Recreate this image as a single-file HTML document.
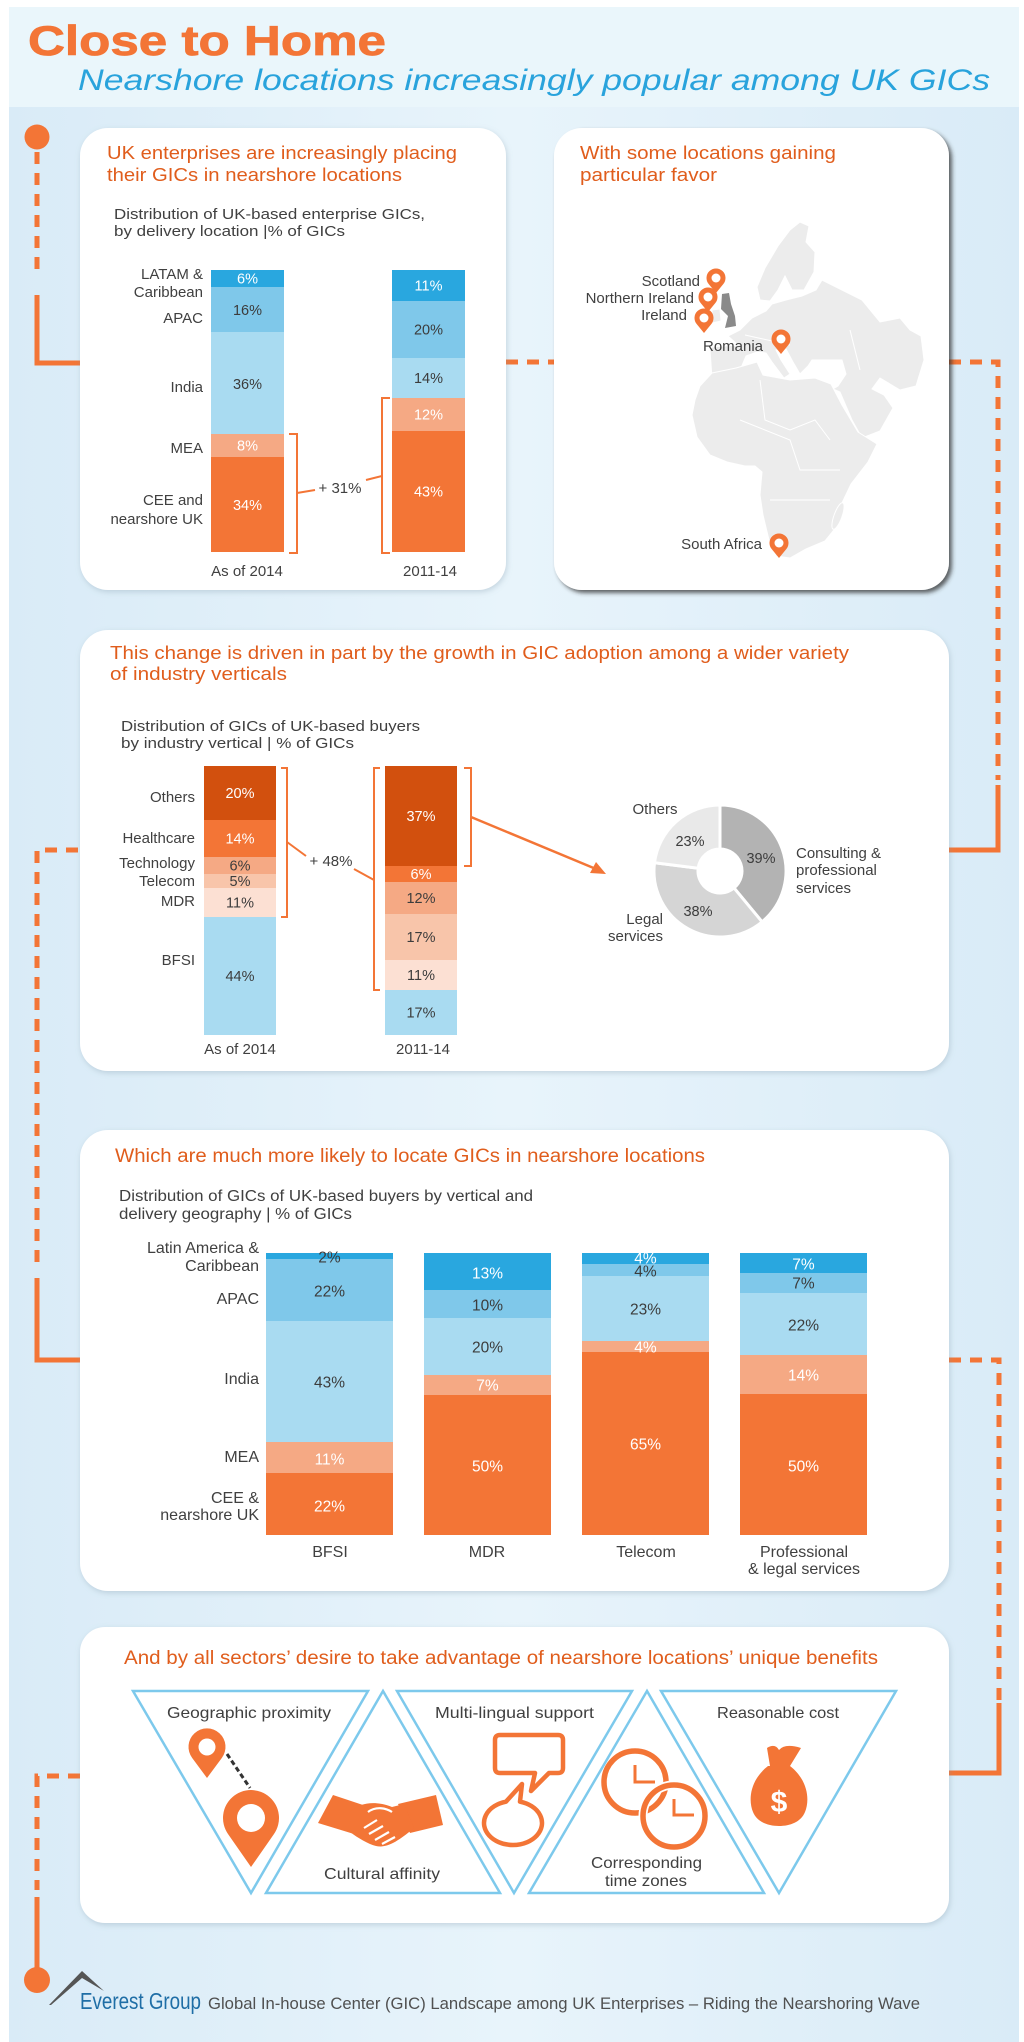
<!DOCTYPE html>
<html><head><meta charset="utf-8"><style>
html,body{margin:0;padding:0;background:#fff}
svg{display:block}
text{font-family:"Liberation Sans",Arial,sans-serif}
.lb{font-size:15px;fill:#404040}
.v{font-size:14.5px;text-anchor:middle}
.w{fill:#fff}.d{fill:#3c3c3c}
.h{font-size:18.5px;fill:#e05d1c}
.s{font-size:14.5px;fill:#404040}
.cn{fill:none;stroke:#f37536;stroke-width:5}
.ds{stroke-dasharray:12 9}
.br{fill:none;stroke:#f37536;stroke-width:2}
.tri{fill:none;stroke:#7dc9ec;stroke-width:2.5}
.or{fill:#f37536}
</style></head><body>
<svg width="1024" height="2042" viewBox="0 0 1024 2042" xmlns="http://www.w3.org/2000/svg">
<defs>
<linearGradient id="bg" x1="0" y1="0" x2="1" y2="0">
<stop offset="0" stop-color="#d9ebf7"/><stop offset="0.5" stop-color="#e8f4fb"/><stop offset="1" stop-color="#d9ebf7"/>
</linearGradient>
<filter id="sh" x="-5%" y="-5%" width="110%" height="115%"><feDropShadow dx="1" dy="2" stdDeviation="3" flood-color="#7f98a8" flood-opacity="0.35"/></filter>
<filter id="sh2" x="-5%" y="-5%" width="110%" height="110%"><feDropShadow dx="3" dy="3" stdDeviation="2" flood-color="#333" flood-opacity="0.75"/></filter>
</defs>

<!-- background -->
<rect x="0" y="0" width="1024" height="2042" fill="#fff"/>
<rect x="9" y="107" width="1010" height="1935" fill="url(#bg)"/>
<rect x="9" y="7" width="1010" height="100" fill="#eaf6fb"/>

<!-- header -->
<text x="28" y="55" font-size="42" font-weight="bold" fill="#f37536" stroke="#f37536" stroke-width="0.8" textLength="358" lengthAdjust="spacingAndGlyphs">Close to Home</text>
<text x="78" y="90" font-size="30" font-style="italic" fill="#29a3dc" textLength="912" lengthAdjust="spacingAndGlyphs">Nearshore locations increasingly popular among UK GICs</text>

<!-- connectors -->
<circle cx="37" cy="137" r="12.5" class="or"/>
<line x1="37" y1="152" x2="37" y2="278" class="cn ds"/>
<polyline points="37,295 37,363 80,363" class="cn"/>
<line x1="506" y1="362" x2="554" y2="362" class="cn ds"/>
<polyline points="949,362 998,362 998,780" class="cn ds"/>
<polyline points="998,785 998,850 949,850" class="cn"/>
<polyline points="78,850 37,850 37,1270" class="cn ds"/>
<polyline points="37,1278 37,1360 80,1360" class="cn"/>
<polyline points="949,1360 999,1360 999,1700" class="cn ds"/>
<polyline points="999,1703 999,1773 949,1773" class="cn"/>
<polyline points="80,1776 37,1776 37,1890" class="cn ds"/>
<line x1="37" y1="1897" x2="37" y2="1980" class="cn"/>
<circle cx="37" cy="1980" r="13" class="or"/>

<!-- PANEL 1 -->
<rect x="80" y="128" width="426" height="462" rx="28" fill="#fff" filter="url(#sh)"/>
<text x="107" y="159" class="h" textLength="350" lengthAdjust="spacingAndGlyphs">UK enterprises are increasingly placing</text>
<text x="107" y="181" class="h" textLength="295" lengthAdjust="spacingAndGlyphs">their GICs in nearshore locations</text>
<text x="114" y="219" class="s" textLength="311" lengthAdjust="spacingAndGlyphs">Distribution of UK-based enterprise GICs,</text>
<text x="114" y="236" class="s" textLength="231" lengthAdjust="spacingAndGlyphs">by delivery location |% of GICs</text>

<rect x="211" y="270" width="73" height="17" fill="#29a7df"/>
<rect x="211" y="287" width="73" height="45" fill="#7fc8ea"/>
<rect x="211" y="332" width="73" height="102" fill="#a9dbf1"/>
<rect x="211" y="434" width="73" height="23" fill="#f5a984"/>
<rect x="211" y="457" width="73" height="95" fill="#f37536"/>
<text x="247.5" y="283.5" class="v w">6%</text>
<text x="247.5" y="315" class="v d">16%</text>
<text x="247.5" y="389" class="v d">36%</text>
<text x="247.5" y="450.5" class="v w">8%</text>
<text x="247.5" y="510" class="v w">34%</text>

<rect x="392" y="270" width="73" height="31" fill="#29a7df"/>
<rect x="392" y="301" width="73" height="57" fill="#7fc8ea"/>
<rect x="392" y="358" width="73" height="40" fill="#a9dbf1"/>
<rect x="392" y="398" width="73" height="33" fill="#f5a984"/>
<rect x="392" y="431" width="73" height="121" fill="#f37536"/>
<text x="428.5" y="290.5" class="v w">11%</text>
<text x="428.5" y="334.5" class="v d">20%</text>
<text x="428.5" y="383" class="v d">14%</text>
<text x="428.5" y="419.5" class="v w">12%</text>
<text x="428.5" y="496.5" class="v w">43%</text>

<g class="lb" text-anchor="end">
<text x="203" y="279">LATAM &amp;</text>
<text x="203" y="297">Caribbean</text>
<text x="203" y="323">APAC</text>
<text x="203" y="392">India</text>
<text x="203" y="453">MEA</text>
<text x="203" y="505">CEE and</text>
<text x="203" y="524">nearshore UK</text>
</g>
<path d="M289,434 H297 V553 H289" class="br"/>
<path d="M390,398 H382 V553 H390" class="br"/>
<line x1="297" y1="493" x2="315" y2="490" class="br"/>
<line x1="366" y1="480" x2="382" y2="476" class="br"/>
<text x="340" y="493" class="lb" text-anchor="middle">+ 31%</text>
<text x="247" y="576" class="lb" text-anchor="middle">As of 2014</text>
<text x="430" y="576" class="lb" text-anchor="middle">2011-14</text>

<!-- PANEL 2 -->
<rect x="554" y="128" width="395" height="462" rx="28" fill="#fff" filter="url(#sh2)"/>
<text x="580" y="159" class="h" textLength="256" lengthAdjust="spacingAndGlyphs">With some locations gaining</text>
<text x="580" y="181" class="h" textLength="137" lengthAdjust="spacingAndGlyphs">particular favor</text>
<g fill="#ececec" stroke="#fff" stroke-width="1">
<path d="M710,350 L712,378 L728,379 L741,368 L746,356 L757,352 L766,353 L772,362 L784,378 L790,374 L781,360 L776,350 L786,349 L793,362 L800,374 L808,366 L812,360 L842,360 L846,374 L838,386 L833,389 L840,392 L852,420 L862,438 L880,431 L893,408 L884,395 L872,389 L880,378 L900,390 L916,386 L924,360 L921,336 L910,330 L900,318 L880,322 L862,300 L842,290 L822,280 L816,290 L802,296 L786,300 L772,304 L766,311 L752,318 L740,330 L728,336 L738,345 L724,346 L712,347 Z"/>
<path d="M760,300 L757,287 L765,268 L778,246 L790,230 L800,222 L809,226 L806,242 L815,252 L814,272 L804,290 L792,290 L785,276 L778,290 L770,301 Z"/>
<path d="M700,386 L712,373 L736,368 L757,362 L763,375 L790,380 L815,378 L831,384 L842,405 L858,432 L877,444 L868,462 L851,484 L841,505 L838,525 L825,541 L806,549 L790,558 L776,556 L769,540 L763,515 L760,495 L762,472 L755,466 L745,466 L727,462 L710,455 L697,437 L692,415 L695,400 Z"/>
<ellipse cx="838" cy="516" rx="4" ry="14" transform="rotate(20 838 516)"/>
<polygon points="712,310 720,309 721,321 712,323"/>
</g>
<g stroke="#fff" stroke-width="1" fill="none">
<path d="M760,380 L765,420 L790,430 L815,420 L830,440"/><path d="M740,420 L790,440 L800,470 L840,470"/><path d="M770,500 L830,500"/><path d="M850,330 L860,370"/><path d="M745,335 L790,345"/>
</g>
<polygon points="722,294 729,293 731,304 735,316 736,326 725,328 728,316 721,309" fill="#8a8a8a"/>
<g class="or">
<path d="M716,293 L723.35,284 A9.5,9.5 0 1 0 708.65,284 Z"/>
<path d="M708,312 L715.35,303 A9.5,9.5 0 1 0 700.65,303 Z"/>
<path d="M704,333 L711.35,324 A9.5,9.5 0 1 0 696.65,324 Z"/>
<path d="M781,354 L788.35,345 A9.5,9.5 0 1 0 773.65,345 Z"/>
<path d="M779,558 L786.35,549 A9.5,9.5 0 1 0 771.65,549 Z"/>
</g>
<g fill="#fff">
<circle cx="716" cy="278" r="4.5"/><circle cx="708" cy="297" r="4.5"/><circle cx="704" cy="318" r="4.5"/><circle cx="781" cy="339" r="4.5"/><circle cx="779" cy="543" r="4.5"/>
</g>
<g class="lb">
<text x="700" y="286" text-anchor="end">Scotland</text>
<text x="694" y="303" text-anchor="end">Northern Ireland</text>
<text x="687" y="320" text-anchor="end">Ireland</text>
<text x="703" y="351">Romania</text>
<text x="762" y="549" text-anchor="end">South Africa</text>
</g>

<!-- PANEL 3 -->
<rect x="80" y="630" width="869" height="441" rx="28" fill="#fff" filter="url(#sh)"/>
<text x="110" y="659" class="h" textLength="739" lengthAdjust="spacingAndGlyphs">This change is driven in part by the growth in GIC adoption among a wider variety</text>
<text x="110" y="680" class="h" textLength="177" lengthAdjust="spacingAndGlyphs">of industry verticals</text>
<text x="121" y="731" class="s" textLength="299" lengthAdjust="spacingAndGlyphs">Distribution of GICs of UK-based buyers</text>
<text x="121" y="748" class="s" textLength="233" lengthAdjust="spacingAndGlyphs">by industry vertical | % of GICs</text>

<rect x="204" y="766" width="72" height="54" fill="#d2500e"/>
<rect x="204" y="820" width="72" height="37" fill="#f37536"/>
<rect x="204" y="857" width="72" height="17" fill="#f5a984"/>
<rect x="204" y="874" width="72" height="14" fill="#f8c5aa"/>
<rect x="204" y="888" width="72" height="29" fill="#fce0d3"/>
<rect x="204" y="917" width="72" height="118" fill="#a9dbf1"/>
<text x="240" y="798" class="v w">20%</text>
<text x="240" y="843.5" class="v w">14%</text>
<text x="240" y="870.5" class="v d">6%</text>
<text x="240" y="886" class="v d">5%</text>
<text x="240" y="907.5" class="v d">11%</text>
<text x="240" y="981" class="v d">44%</text>

<rect x="385" y="766" width="72" height="100" fill="#d2500e"/>
<rect x="385" y="866" width="72" height="16" fill="#f37536"/>
<rect x="385" y="882" width="72" height="32" fill="#f5a984"/>
<rect x="385" y="914" width="72" height="46" fill="#f8c5aa"/>
<rect x="385" y="960" width="72" height="30" fill="#fce0d3"/>
<rect x="385" y="990" width="72" height="45" fill="#a9dbf1"/>
<text x="421" y="821" class="v w">37%</text>
<text x="421" y="879" class="v w">6%</text>
<text x="421" y="903" class="v d">12%</text>
<text x="421" y="942" class="v d">17%</text>
<text x="421" y="980" class="v d">11%</text>
<text x="421" y="1017.5" class="v d">17%</text>

<g class="lb" text-anchor="end">
<text x="195" y="802">Others</text>
<text x="195" y="843">Healthcare</text>
<text x="195" y="868">Technology</text>
<text x="195" y="886">Telecom</text>
<text x="195" y="906">MDR</text>
<text x="195" y="965">BFSI</text>
</g>
<path d="M281,768 H287 V917 H281" class="br"/>
<path d="M380,768 H374 V990 H380" class="br"/>
<path d="M464,768 H471 V866 H464" class="br"/>
<line x1="287" y1="842" x2="306" y2="856" class="br"/>
<line x1="354" y1="869" x2="374" y2="880" class="br"/>
<text x="331" y="866" class="lb" text-anchor="middle">+ 48%</text>
<line x1="471" y1="817" x2="596" y2="869" stroke="#f37536" stroke-width="2.5"/>
<polygon points="606,874 590,873 596,862" class="or"/>

<path d="M720,805 A66,66 0 0 1 762.07,921.85 L734.02,887.95 A22,22 0 0 0 720,849 Z" fill="#b3b3b3" stroke="#fff" stroke-width="3"/>
<path d="M762.07,921.85 A66,66 0 0 1 654.52,862.73 L698.17,868.24 A22,22 0 0 0 734.02,887.95 Z" fill="#d5d5d5" stroke="#fff" stroke-width="3"/>
<path d="M654.52,862.73 A66,66 0 0 1 720,805 L720,849 A22,22 0 0 0 698.17,868.24 Z" fill="#e9e9e9" stroke="#fff" stroke-width="3"/>
<text x="761" y="863" class="v d">39%</text>
<text x="698" y="916" class="v d">38%</text>
<text x="690" y="846" class="v d">23%</text>
<g class="lb">
<text x="655" y="814" text-anchor="middle">Others</text>
<text x="796" y="858">Consulting &amp;</text>
<text x="796" y="875">professional</text>
<text x="796" y="893">services</text>
<text x="663" y="924" text-anchor="end">Legal</text>
<text x="663" y="941" text-anchor="end">services</text>
<text x="240" y="1054" text-anchor="middle">As of 2014</text>
<text x="423" y="1054" text-anchor="middle">2011-14</text>
</g>

<!-- PANEL 4 -->
<rect x="80" y="1130" width="869" height="461" rx="28" fill="#fff" filter="url(#sh)"/>
<text x="115" y="1162" font-size="19" fill="#e05d1c" textLength="590" lengthAdjust="spacingAndGlyphs">Which are much more likely to locate GICs in nearshore locations</text>
<text x="119" y="1201" font-size="15.5" fill="#404040" textLength="414" lengthAdjust="spacingAndGlyphs">Distribution of GICs of UK-based buyers by vertical and</text>
<text x="119" y="1219" font-size="15.5" fill="#404040" textLength="233" lengthAdjust="spacingAndGlyphs">delivery geography | % of GICs</text>

<g>
<rect x="266" y="1253" width="127" height="6" fill="#29a7df"/>
<rect x="266" y="1259" width="127" height="62" fill="#7fc8ea"/>
<rect x="266" y="1321" width="127" height="121" fill="#a9dbf1"/>
<rect x="266" y="1442" width="127" height="31" fill="#f5a984"/>
<rect x="266" y="1473" width="127" height="62" fill="#f37536"/>

<rect x="424" y="1253" width="127" height="37" fill="#29a7df"/>
<rect x="424" y="1290" width="127" height="28" fill="#7fc8ea"/>
<rect x="424" y="1318" width="127" height="57" fill="#a9dbf1"/>
<rect x="424" y="1375" width="127" height="20" fill="#f5a984"/>
<rect x="424" y="1395" width="127" height="140" fill="#f37536"/>

<rect x="582" y="1253" width="127" height="11" fill="#29a7df"/>
<rect x="582" y="1264" width="127" height="12" fill="#7fc8ea"/>
<rect x="582" y="1276" width="127" height="65" fill="#a9dbf1"/>
<rect x="582" y="1341" width="127" height="11" fill="#f5a984"/>
<rect x="582" y="1352" width="127" height="183" fill="#f37536"/>

<rect x="740" y="1253" width="127" height="20" fill="#29a7df"/>
<rect x="740" y="1273" width="127" height="20" fill="#7fc8ea"/>
<rect x="740" y="1293" width="127" height="62" fill="#a9dbf1"/>
<rect x="740" y="1355" width="127" height="39" fill="#f5a984"/>
<rect x="740" y="1394" width="127" height="141" fill="#f37536"/>
</g>
<g font-size="15.5" text-anchor="middle">
<text x="329.5" y="1262.5" class="d">2%</text>
<text x="329.5" y="1296.5" class="d">22%</text>
<text x="329.5" y="1387.5" class="d">43%</text>
<text x="329.5" y="1464.5" class="w">11%</text>
<text x="329.5" y="1511.5" class="w">22%</text>
<text x="487.5" y="1278.5" class="w">13%</text>
<text x="487.5" y="1310.5" class="d">10%</text>
<text x="487.5" y="1352.5" class="d">20%</text>
<text x="487.5" y="1390.5" class="w">7%</text>
<text x="487.5" y="1471.5" class="w">50%</text>
<text x="645.5" y="1263.5" class="w">4%</text>
<text x="645.5" y="1276.5" class="d">4%</text>
<text x="645.5" y="1314.5" class="d">23%</text>
<text x="645.5" y="1352.5" class="w">4%</text>
<text x="645.5" y="1449.5" class="w">65%</text>
<text x="803.5" y="1269.5" class="w">7%</text>
<text x="803.5" y="1288.5" class="d">7%</text>
<text x="803.5" y="1330.5" class="d">22%</text>
<text x="803.5" y="1380.5" class="w">14%</text>
<text x="803.5" y="1471.5" class="w">50%</text>
</g>
<g font-size="16" fill="#404040" text-anchor="end">
<text x="259" y="1253">Latin America &amp;</text>
<text x="259" y="1271">Caribbean</text>
<text x="259" y="1304">APAC</text>
<text x="259" y="1384">India</text>
<text x="259" y="1462">MEA</text>
<text x="259" y="1503">CEE &amp;</text>
<text x="259" y="1520">nearshore UK</text>
</g>
<g font-size="16" fill="#404040" text-anchor="middle">
<text x="330" y="1557">BFSI</text>
<text x="487" y="1557">MDR</text>
<text x="646" y="1557">Telecom</text>
<text x="804" y="1557">Professional</text>
<text x="804" y="1574">&amp; legal services</text>
</g>

<!-- PANEL 5 -->
<rect x="80" y="1627" width="869" height="296" rx="25" fill="#fff" filter="url(#sh)"/>
<text x="124" y="1664" font-size="19" fill="#e05d1c" textLength="754" lengthAdjust="spacingAndGlyphs">And by all sectors’ desire to take advantage of nearshore locations’ unique benefits</text>
<polygon points="133,1691 368,1691 251,1893" class="tri"/>
<polygon points="383,1691 266,1893 500,1893" class="tri"/>
<polygon points="397,1691 632,1691 514,1893" class="tri"/>
<polygon points="647,1691 529,1893 764,1893" class="tri"/>
<polygon points="661,1691 896,1691 779,1893" class="tri"/>
<g font-size="16" fill="#404040" text-anchor="middle">
<text x="249" y="1718" textLength="164" lengthAdjust="spacingAndGlyphs">Geographic proximity</text>
<text x="514.5" y="1718" textLength="159" lengthAdjust="spacingAndGlyphs">Multi-lingual support</text>
<text x="778" y="1718" textLength="122" lengthAdjust="spacingAndGlyphs">Reasonable cost</text>
<text x="382" y="1879" textLength="116" lengthAdjust="spacingAndGlyphs">Cultural affinity</text>
<text x="646.5" y="1868" textLength="111" lengthAdjust="spacingAndGlyphs">Corresponding</text>
<text x="646" y="1886" textLength="82" lengthAdjust="spacingAndGlyphs">time zones</text>
</g>
<!-- geo icon -->
<line x1="227" y1="1754" x2="250" y2="1788" stroke="#333" stroke-width="3" stroke-dasharray="5 3"/>
<path d="M207,1778 L221.8,1758 A18.5,18.5 0 1 0 192.2,1758 Z" class="or"/>
<circle cx="207" cy="1747" r="8.5" fill="#fff"/>
<path d="M251,1867 L274,1834 A28,28 0 1 0 228,1834 Z" class="or"/>
<circle cx="251" cy="1818" r="14" fill="#fff"/>
<!-- handshake -->
<polygon points="318,1823 333,1795 366,1806 354,1834" class="or"/>
<polygon points="398,1804 436,1795 443,1825 410,1833" class="or"/>
<path d="M350,1812 C362,1800 380,1802 392,1807 L404,1804 L414,1828 C402,1838 388,1849 376,1846 C368,1844 358,1838 350,1832 Z" class="or"/>
<g stroke="#fff" stroke-width="2.2" fill="none">
<path d="M368,1812 C376,1806 386,1808 392,1812"/>
<line x1="364" y1="1828" x2="377" y2="1820"/>
<line x1="369" y1="1834" x2="383" y2="1826"/>
<line x1="375" y1="1840" x2="389" y2="1832"/>
<line x1="382" y1="1844" x2="395" y2="1837"/>
</g>
<!-- speech bubbles -->
<path d="M500,1735 H558 Q563,1735 563,1740 V1768 Q563,1773 558,1773 H549 L531,1791 L535,1773 H500 Q495,1773 495,1768 V1740 Q495,1735 500,1735 Z" fill="#fff" stroke="#f37536" stroke-width="4.5" stroke-linejoin="round"/>
<path d="M506,1801.65 L522,1784 L520,1801.65 A29,22 0 1 1 506,1801.65 Z" fill="#fff" stroke="#f37536" stroke-width="4.5" stroke-linejoin="round"/>
<!-- clocks -->
<circle cx="635" cy="1782" r="31" fill="none" stroke="#f37536" stroke-width="5.5"/>
<circle cx="674" cy="1816" r="31" fill="none" stroke="#fff" stroke-width="9"/>
<circle cx="674" cy="1816" r="31" fill="none" stroke="#f37536" stroke-width="5.5"/>
<polyline points="635,1765 635,1782 655,1782" fill="none" stroke="#f37536" stroke-width="3"/>
<polyline points="674,1799 674,1815 694,1815" fill="none" stroke="#f37536" stroke-width="3"/>
<!-- money bag -->
<path d="M767,1748 Q775,1743 779,1750 Q785,1743 801,1748 L790,1766 L770,1766 Z" class="or"/>
<path d="M768,1766 C750,1780 748,1800 753,1812 C757,1822 768,1826 779,1826 C790,1826 801,1822 805,1812 C810,1800 808,1780 790,1766 Z" class="or"/>
<text x="779" y="1812" font-size="30" font-weight="bold" fill="#fff" text-anchor="middle">$</text>

<!-- footer -->
<polygon points="49,2005 82,1971 104,1991 82,1978 51,2005" fill="#555"/>
<text x="80" y="2009" font-size="23" fill="#1f6ea6" textLength="121" lengthAdjust="spacingAndGlyphs">Everest Group</text>
<text x="208" y="2009" font-size="16.5" fill="#505050" textLength="712" lengthAdjust="spacingAndGlyphs">Global In-house Center (GIC) Landscape among UK Enterprises – Riding the Nearshoring Wave</text>
</svg>
</body></html>
